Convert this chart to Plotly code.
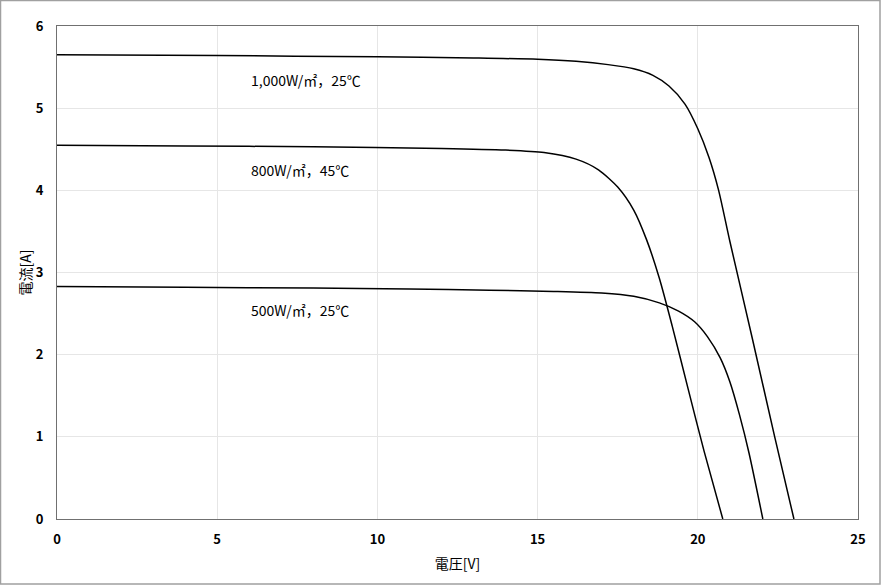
import plotly.graph_objects as go

# 1,000 W/m2, 25C
v_1000 = [0, 5, 10, 13, 15, 16.2, 17.2, 18.0, 18.6, 19.1, 19.6, 20.0, 20.35, 20.65, 21.0, 21.7, 22.4, 23.0]
i_1000 = [5.65, 5.64, 5.625, 5.61, 5.595, 5.57, 5.53, 5.48, 5.40, 5.27, 5.05, 4.75, 4.40, 4.00, 3.38, 2.20, 1.00, 0]
# 800 W/m2, 45C
v_800 = [0, 4, 8, 12, 14, 15.2, 16.2, 16.9, 17.5, 18.0, 18.4, 18.8, 19.2, 19.7, 20.2, 20.78]
i_800 = [4.55, 4.54, 4.53, 4.51, 4.49, 4.46, 4.38, 4.25, 4.04, 3.76, 3.40, 2.93, 2.35, 1.58, 0.82, 0]
# 500 W/m2, 25C
v_500 = [0, 4, 8, 11, 13.5, 15.5, 17.0, 18.0, 18.8, 19.4, 19.9, 20.3, 20.7, 21.0, 21.3, 21.6, 22.03]
i_500 = [2.83, 2.82, 2.81, 2.80, 2.785, 2.77, 2.75, 2.71, 2.63, 2.53, 2.40, 2.22, 1.96, 1.67, 1.27, 0.80, 0]

labels = ["1,000W/㎡，25℃", "800W/㎡，45℃", "500W/㎡，25℃"]
label_x = [6.0, 6.0, 6.0]
label_y = [5.34, 4.25, 2.54]

x_ticks = [0, 5, 10, 15, 20, 25]
y_ticks = [0, 1, 2, 3, 4, 5, 6]

FONT = "Noto Sans CJK JP"

fig = go.Figure()
for v, i in [(v_1000, i_1000), (v_800, i_800), (v_500, i_500)]:
    fig.add_trace(go.Scatter(x=v, y=i, mode="lines",
                             line=dict(color="black", width=1.5, shape="spline", smoothing=0.7),
                             showlegend=False, hoverinfo="skip"))

for t, x, y in zip(labels, label_x, label_y):
    fig.add_annotation(x=x, y=y, text=t, showarrow=False, xanchor="left", yanchor="middle",
                       font=dict(family=FONT, size=14, color="black"))

axis_common = dict(showline=True, linecolor="#707070", linewidth=1, mirror=True,
                   showgrid=True, gridcolor="#e6e6e6", gridwidth=1,
                   ticks="", zeroline=False,
                   tickfont=dict(family=FONT, size=13, color="black", weight="bold"))

fig.update_xaxes(range=[0, 25], tickvals=x_ticks, ticktext=[str(t) for t in x_ticks],
                 ticklabelstandoff=8,
                 title=dict(text="電圧[V]", font=dict(family=FONT, size=14, color="black"), standoff=12),
                 **axis_common)
fig.update_yaxes(range=[0, 6], tickvals=y_ticks, ticktext=[str(t) for t in y_ticks],
                 ticklabelstandoff=10,
                 title=dict(text="電流[A]", font=dict(family=FONT, size=14, color="black"), standoff=0),
                 **axis_common)

fig.add_shape(type="rect", xref="paper", yref="paper",
              x0=(0.5 - 57) / 801, x1=(880 - 57) / 801,
              y0=(519 - 584) / 493, y1=(519 - 0.5) / 493,
              line=dict(color="#a0a0a0", width=1.5), layer="below")

fig.update_layout(width=881, height=585, margin=dict(l=57, r=23, t=26, b=66),
                  plot_bgcolor="white", paper_bgcolor="white",
                  font=dict(family=FONT))

fig.write_html("out.html", config={"displayModeBar": False},
               post_script="document.body.style.margin='0px';")
